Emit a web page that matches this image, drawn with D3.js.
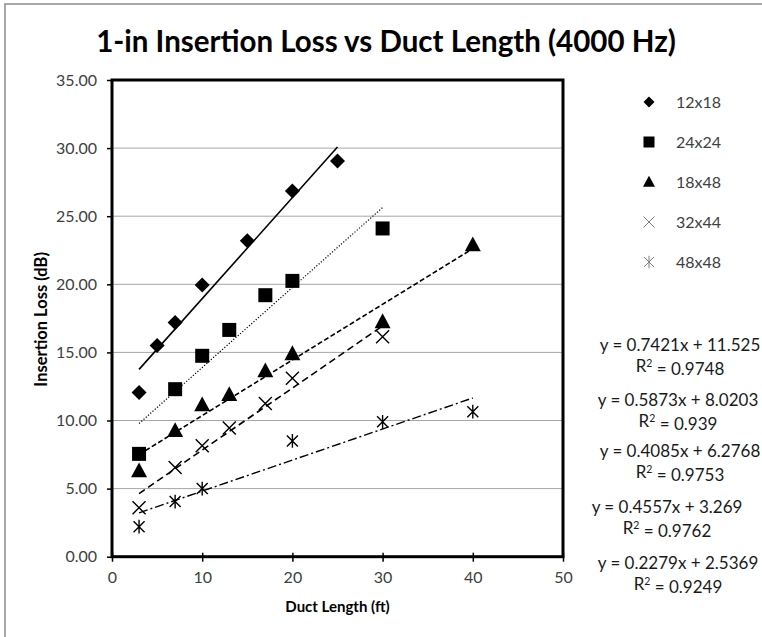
<!DOCTYPE html>
<html><head><meta charset="utf-8">
<script src="https://cdn.jsdelivr.net/npm/d3@7/dist/d3.min.js"></script>
<style>body{margin:0;background:#fff} svg{display:block} text{font-family:Lato,"Open Sans",sans-serif}</style>
</head><body>
<svg id="c" width="762" height="637"></svg>
<script>
// ---------- data ----------
const seriesNames = ["12x18", "24x24", "18x48", "32x44", "48x48"];
const x12x18 = [3, 5, 7, 10, 15, 20, 25];
const y12x18 = [12.05, 15.5, 17.2, 19.95, 23.2, 26.85, 29.05];
const x24x24 = [3, 7, 10, 13, 17, 20, 30];
const y24x24 = [7.55, 12.3, 14.75, 16.65, 19.2, 20.25, 24.1];
const x18x48 = [3, 7, 10, 13, 17, 20, 30, 40];
const y18x48 = [6.3, 9.25, 11.15, 11.9, 13.65, 14.9, 17.25, 22.9];
const x32x44 = [3, 7, 10, 13, 17, 20, 30];
const y32x44 = [3.6, 6.55, 8.15, 9.45, 11.25, 13.1, 16.15];
const x48x48 = [3, 7, 10, 20, 30, 40];
const y48x48 = [2.2, 4.05, 5.0, 8.5, 9.9, 10.65];
const slopes = [0.7421, 0.5873, 0.4085, 0.4557, 0.2279];
const intercepts = ["11.525", "8.0203", "6.2768", "3.269", "2.5369"];
const r2Values = ["0.9748", "0.939", "0.9753", "0.9762", "0.9249"];
const xTicks = [0, 10, 20, 30, 40, 50];
const yTicks = [0, 5, 10, 15, 20, 25, 30, 35];
const titleText = "1-in Insertion Loss vs Duct Length (4000 Hz)";
const xLabel = "Duct Length (ft)";
const yLabel = "Insertion Loss (dB)";

const xs = [x12x18, x24x24, x18x48, x32x44, x48x48];
const ys = [y12x18, y24x24, y18x48, y32x44, y48x48];

// ---------- layout ----------
const svg = d3.select("#c");
const x = d3.scaleLinear().domain([0, 50]).range([112, 563]);
const y = d3.scaleLinear().domain([0, 35]).range([556.7, 80]);
const textCol = "#404040";

// outer chart border
svg.append("rect").attr("x", 5).attr("y", 4).attr("width", 900).attr("height", 900)
  .attr("fill", "none").attr("stroke", "#8c8c8c").attr("stroke-width", 1.5);

// title
svg.append("text").attr("x", 386).attr("y", 52).attr("text-anchor", "middle")
  .attr("font-size", 29.5).attr("font-weight", "bold").attr("fill", "#000").text(titleText);

// gridlines
svg.append("g").selectAll("line").data(yTicks.filter(d => d > 0 && d < 35)).join("line")
  .attr("x1", x(0)).attr("x2", x(50)).attr("y1", d => y(d)).attr("y2", d => y(d))
  .attr("stroke", "#a6a6a6").attr("stroke-width", 1);

// y axis
const ya = svg.append("g").attr("transform", `translate(${x(0)},0)`)
  .call(d3.axisLeft(y).tickValues(yTicks).tickSize(5).tickPadding(10).tickFormat(d3.format(".2f")));
ya.select(".domain").remove();
ya.selectAll("line").attr("stroke", "#000").attr("stroke-width", 1.5);
ya.selectAll("text").attr("font-size", 16).attr("fill", textCol).attr("font-family", "Lato");

// x axis
const xa = svg.append("g").attr("transform", `translate(0,${y(0)})`)
  .call(d3.axisBottom(x).tickValues(xTicks).tickSize(5).tickPadding(10).tickFormat(d3.format("d")));
xa.select(".domain").remove();
xa.selectAll("line").attr("y1", -4).attr("stroke", "#000").attr("stroke-width", 1.5);
xa.selectAll("text").attr("font-size", 16).attr("fill", textCol).attr("font-family", "Lato");

// plot frame
svg.append("rect").attr("x", x(0)).attr("y", y(35)).attr("width", x(50) - x(0)).attr("height", y(0) - y(35))
  .attr("fill", "none").attr("stroke", "#000").attr("stroke-width", 3);

// axis titles
svg.append("text").attr("x", (x(0) + x(50)) / 2).attr("y", 612).attr("text-anchor", "middle")
  .attr("font-size", 15).attr("font-weight", "bold").attr("fill", "#000").text(xLabel);
svg.append("text").attr("transform", `translate(47,${(y(0) + y(35)) / 2 + 1}) rotate(-90)`)
  .attr("text-anchor", "middle").attr("font-size", 16.5).attr("font-weight", "bold").attr("fill", "#000").text(yLabel);

// trendlines
const dashes = [null, "1.2,1.8", "5,2.5", "7,4", "9,3,2,3"];
const lineWidths = [1.6, 1.2, 1.6, 1.6, 1.4];
for (let i = 0; i < 5; i++) {
  const x0 = d3.min(xs[i]), x1 = d3.max(xs[i]);
  const f = v => slopes[i] * v + (+intercepts[i]);
  svg.append("line").attr("x1", x(x0)).attr("y1", y(f(x0))).attr("x2", x(x1)).attr("y2", y(f(x1)))
    .attr("stroke", "#000").attr("stroke-width", lineWidths[i]).attr("stroke-dasharray", dashes[i]);
}

// marker drawers
function marker(g, type, s, col, sw) {
  if (type === 0) {
    g.append("path").attr("d", `M0,${-s}L${s},0L0,${s}L${-s},0Z`).attr("fill", col);
  } else if (type === 1) {
    g.append("rect").attr("x", -s).attr("y", -s).attr("width", 2 * s).attr("height", 2 * s).attr("fill", col);
  } else if (type === 2) {
    g.append("path").attr("d", `M0,${-s * 1.05}L${s},${s * 0.8}L${-s},${s * 0.8}Z`).attr("fill", col);
  } else if (type === 3) {
    g.append("path").attr("d", `M${-s},${-s}L${s},${s}M${-s},${s}L${s},${-s}`)
      .attr("stroke", col).attr("stroke-width", sw).attr("fill", "none");
  } else {
    g.append("path").attr("d", `M${-s},${-s}L${s},${s}M${-s},${s}L${s},${-s}M0,${-s * 1.25}L0,${s * 1.25}`)
      .attr("stroke", col).attr("stroke-width", sw).attr("fill", "none");
  }
}
const sizes = [7.5, 7, 8, 6.5, 5.5];
for (let i = 0; i < 5; i++) {
  xs[i].forEach((xv, j) => {
    const g = svg.append("g").attr("transform", `translate(${x(xv)},${y(ys[i][j])})`);
    marker(g, i, sizes[i], "#000", 1.4);
  });
}

// legend
const legSizes = [5.5, 5.5, 6, 5.5, 5];
seriesNames.forEach((n, i) => {
  const ly = 102 + i * 40;
  const g = svg.append("g").attr("transform", `translate(649,${ly})`);
  marker(g, i, legSizes[i], i >= 3 ? "#7f7f7f" : "#000", 1);
  svg.append("text").attr("x", 676).attr("y", ly).attr("dy", "0.35em").attr("font-size", 16)
    .attr("fill", textCol).text(n);
});

// trendline equations
const eqCx = [680, 678, 680, 667, 678];
const eqCy = [345, 400, 451, 507, 563];
for (let i = 0; i < 5; i++) {
  svg.append("text").attr("x", eqCx[i]).attr("y", eqCy[i]).attr("dy", "0.35em").attr("text-anchor", "middle")
    .attr("font-size", 17).attr("fill", "#1a1a1a")
    .text(`y = ${slopes[i]}x + ${intercepts[i]}`);
  const t = svg.append("text").attr("x", eqCx[i]).attr("y", eqCy[i] + 21).attr("dy", "0.35em").attr("text-anchor", "middle")
    .attr("font-size", 17).attr("fill", "#1a1a1a");
  t.append("tspan").text("R");
  t.append("tspan").attr("dy", "-0.45em").attr("font-size", 10.5).text("2");
  t.append("tspan").attr("dy", "0.45em").text(` = ${r2Values[i]}`);
}
</script>
</body></html>
